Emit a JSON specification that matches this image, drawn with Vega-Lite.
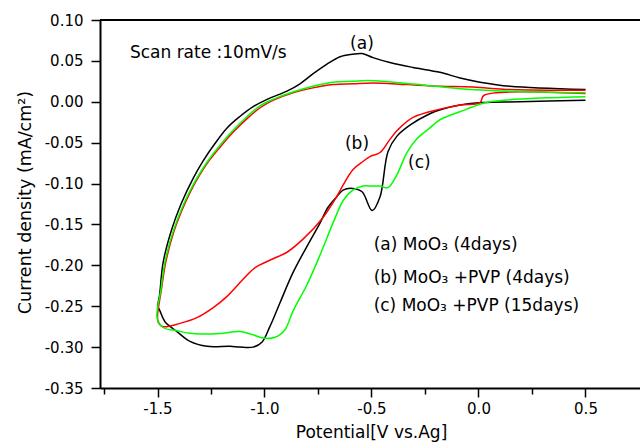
{
  "$schema": "https://vega.github.io/schema/vega-lite/v6.json",
  "width": 540,
  "height": 368,
  "autosize": {"type": "none"},
  "padding": {"left": 100, "top": 20, "right": 0, "bottom": 60},
  "background": "white",
  "config": {"view": {"stroke": null}, "font": "DejaVu Sans"},
  "datasets": {
    "curves": [
      {"s": "a", "i": 1, "x": 0.50, "y": 0.002},
      {"s": "a", "i": 2, "x": 0.192, "y": 0.000},
      {"s": "a", "i": 3, "x": 0.019, "y": -0.001},
      {"s": "a", "i": 4, "x": -0.086, "y": -0.004},
      {"s": "a", "i": 5, "x": -0.182, "y": -0.010},
      {"s": "a", "i": 6, "x": -0.230, "y": -0.015},
      {"s": "a", "i": 7, "x": -0.317, "y": -0.028},
      {"s": "a", "i": 8, "x": -0.381, "y": -0.042},
      {"s": "a", "i": 9, "x": -0.423, "y": -0.061},
      {"s": "a", "i": 10, "x": -0.460, "y": -0.116},
      {"s": "a", "i": 11, "x": -0.497, "y": -0.133},
      {"s": "a", "i": 12, "x": -0.544, "y": -0.110},
      {"s": "a", "i": 13, "x": -0.587, "y": -0.106},
      {"s": "a", "i": 14, "x": -0.633, "y": -0.108},
      {"s": "a", "i": 15, "x": -0.662, "y": -0.116},
      {"s": "a", "i": 16, "x": -0.703, "y": -0.129},
      {"s": "a", "i": 17, "x": -0.740, "y": -0.148},
      {"s": "a", "i": 18, "x": -0.802, "y": -0.177},
      {"s": "a", "i": 19, "x": -0.867, "y": -0.209},
      {"s": "a", "i": 20, "x": -0.928, "y": -0.246},
      {"s": "a", "i": 21, "x": -0.975, "y": -0.275},
      {"s": "a", "i": 22, "x": -1.012, "y": -0.294},
      {"s": "a", "i": 23, "x": -1.053, "y": -0.300},
      {"s": "a", "i": 24, "x": -1.115, "y": -0.300},
      {"s": "a", "i": 25, "x": -1.161, "y": -0.299},
      {"s": "a", "i": 26, "x": -1.269, "y": -0.299},
      {"s": "a", "i": 27, "x": -1.348, "y": -0.293},
      {"s": "a", "i": 28, "x": -1.409, "y": -0.281},
      {"s": "a", "i": 29, "x": -1.465, "y": -0.269},
      {"s": "a", "i": 30, "x": -1.488, "y": -0.256},
      {"s": "a", "i": 31, "x": -1.498, "y": -0.250},
      {"s": "a", "i": 32, "x": -1.490, "y": -0.236},
      {"s": "a", "i": 33, "x": -1.474, "y": -0.197},
      {"s": "a", "i": 34, "x": -1.436, "y": -0.158},
      {"s": "a", "i": 35, "x": -1.390, "y": -0.125},
      {"s": "a", "i": 36, "x": -1.334, "y": -0.094},
      {"s": "a", "i": 37, "x": -1.286, "y": -0.072},
      {"s": "a", "i": 38, "x": -1.234, "y": -0.052},
      {"s": "a", "i": 39, "x": -1.175, "y": -0.032},
      {"s": "a", "i": 40, "x": -1.115, "y": -0.018},
      {"s": "a", "i": 41, "x": -1.053, "y": -0.006},
      {"s": "a", "i": 42, "x": -0.988, "y": 0.003},
      {"s": "a", "i": 43, "x": -0.895, "y": 0.013},
      {"s": "a", "i": 44, "x": -0.834, "y": 0.022},
      {"s": "a", "i": 45, "x": -0.774, "y": 0.034},
      {"s": "a", "i": 46, "x": -0.708, "y": 0.046},
      {"s": "a", "i": 47, "x": -0.647, "y": 0.055},
      {"s": "a", "i": 48, "x": -0.590, "y": 0.058},
      {"s": "a", "i": 49, "x": -0.544, "y": 0.059},
      {"s": "a", "i": 50, "x": -0.493, "y": 0.054},
      {"s": "a", "i": 51, "x": -0.414, "y": 0.048},
      {"s": "a", "i": 52, "x": -0.306, "y": 0.042},
      {"s": "a", "i": 53, "x": -0.180, "y": 0.036},
      {"s": "a", "i": 54, "x": -0.086, "y": 0.029},
      {"s": "a", "i": 55, "x": 0.007, "y": 0.024},
      {"s": "a", "i": 56, "x": 0.147, "y": 0.019},
      {"s": "a", "i": 57, "x": 0.50, "y": 0.015},

      {"s": "b", "i": 1, "x": 0.50, "y": 0.010},
      {"s": "b", "i": 2, "x": 0.026, "y": 0.008},
      {"s": "b", "i": 3, "x": 0.007, "y": -0.001},
      {"s": "b", "i": 4, "x": -0.086, "y": -0.004},
      {"s": "b", "i": 5, "x": -0.180, "y": -0.009},
      {"s": "b", "i": 6, "x": -0.306, "y": -0.019},
      {"s": "b", "i": 7, "x": -0.376, "y": -0.034},
      {"s": "b", "i": 8, "x": -0.414, "y": -0.046},
      {"s": "b", "i": 9, "x": -0.460, "y": -0.062},
      {"s": "b", "i": 10, "x": -0.507, "y": -0.067},
      {"s": "b", "i": 11, "x": -0.540, "y": -0.073},
      {"s": "b", "i": 12, "x": -0.587, "y": -0.083},
      {"s": "b", "i": 13, "x": -0.633, "y": -0.102},
      {"s": "b", "i": 14, "x": -0.665, "y": -0.117},
      {"s": "b", "i": 15, "x": -0.731, "y": -0.143},
      {"s": "b", "i": 16, "x": -0.820, "y": -0.168},
      {"s": "b", "i": 17, "x": -0.895, "y": -0.184},
      {"s": "b", "i": 18, "x": -0.960, "y": -0.192},
      {"s": "b", "i": 19, "x": -1.045, "y": -0.203},
      {"s": "b", "i": 20, "x": -1.100, "y": -0.217},
      {"s": "b", "i": 21, "x": -1.175, "y": -0.238},
      {"s": "b", "i": 22, "x": -1.241, "y": -0.252},
      {"s": "b", "i": 23, "x": -1.316, "y": -0.264},
      {"s": "b", "i": 24, "x": -1.395, "y": -0.271},
      {"s": "b", "i": 25, "x": -1.474, "y": -0.275},
      {"s": "b", "i": 26, "x": -1.496, "y": -0.270},
      {"s": "b", "i": 27, "x": -1.500, "y": -0.262},
      {"s": "b", "i": 28, "x": -1.482, "y": -0.230},
      {"s": "b", "i": 29, "x": -1.462, "y": -0.197},
      {"s": "b", "i": 30, "x": -1.425, "y": -0.160},
      {"s": "b", "i": 31, "x": -1.373, "y": -0.125},
      {"s": "b", "i": 32, "x": -1.322, "y": -0.098},
      {"s": "b", "i": 33, "x": -1.267, "y": -0.075},
      {"s": "b", "i": 34, "x": -1.206, "y": -0.055},
      {"s": "b", "i": 35, "x": -1.146, "y": -0.037},
      {"s": "b", "i": 36, "x": -1.079, "y": -0.020},
      {"s": "b", "i": 37, "x": -1.019, "y": -0.007},
      {"s": "b", "i": 38, "x": -0.958, "y": 0.002},
      {"s": "b", "i": 39, "x": -0.867, "y": 0.011},
      {"s": "b", "i": 40, "x": -0.774, "y": 0.017},
      {"s": "b", "i": 41, "x": -0.680, "y": 0.021},
      {"s": "b", "i": 42, "x": -0.587, "y": 0.022},
      {"s": "b", "i": 43, "x": -0.493, "y": 0.023},
      {"s": "b", "i": 44, "x": -0.334, "y": 0.021},
      {"s": "b", "i": 45, "x": -0.180, "y": 0.019},
      {"s": "b", "i": 46, "x": -0.026, "y": 0.018},
      {"s": "b", "i": 47, "x": 0.147, "y": 0.015},
      {"s": "b", "i": 48, "x": 0.50, "y": 0.014},

      {"s": "c", "i": 1, "x": 0.50, "y": 0.006},
      {"s": "c", "i": 2, "x": 0.054, "y": 0.000},
      {"s": "c", "i": 3, "x": -0.026, "y": -0.006},
      {"s": "c", "i": 4, "x": -0.054, "y": -0.009},
      {"s": "c", "i": 5, "x": -0.180, "y": -0.022},
      {"s": "c", "i": 6, "x": -0.227, "y": -0.032},
      {"s": "c", "i": 7, "x": -0.287, "y": -0.045},
      {"s": "c", "i": 8, "x": -0.334, "y": -0.062},
      {"s": "c", "i": 9, "x": -0.381, "y": -0.089},
      {"s": "c", "i": 10, "x": -0.423, "y": -0.105},
      {"s": "c", "i": 11, "x": -0.460, "y": -0.103},
      {"s": "c", "i": 12, "x": -0.497, "y": -0.103},
      {"s": "c", "i": 13, "x": -0.540, "y": -0.103},
      {"s": "c", "i": 14, "x": -0.587, "y": -0.108},
      {"s": "c", "i": 15, "x": -0.633, "y": -0.121},
      {"s": "c", "i": 16, "x": -0.670, "y": -0.142},
      {"s": "c", "i": 17, "x": -0.740, "y": -0.187},
      {"s": "c", "i": 18, "x": -0.802, "y": -0.224},
      {"s": "c", "i": 19, "x": -0.867, "y": -0.256},
      {"s": "c", "i": 20, "x": -0.905, "y": -0.279},
      {"s": "c", "i": 21, "x": -0.951, "y": -0.288},
      {"s": "c", "i": 22, "x": -1.007, "y": -0.289},
      {"s": "c", "i": 23, "x": -1.053, "y": -0.285},
      {"s": "c", "i": 24, "x": -1.115, "y": -0.281},
      {"s": "c", "i": 25, "x": -1.194, "y": -0.283},
      {"s": "c", "i": 26, "x": -1.241, "y": -0.284},
      {"s": "c", "i": 27, "x": -1.348, "y": -0.283},
      {"s": "c", "i": 28, "x": -1.409, "y": -0.280},
      {"s": "c", "i": 29, "x": -1.474, "y": -0.276},
      {"s": "c", "i": 30, "x": -1.502, "y": -0.264},
      {"s": "c", "i": 31, "x": -1.484, "y": -0.230},
      {"s": "c", "i": 32, "x": -1.466, "y": -0.197},
      {"s": "c", "i": 33, "x": -1.429, "y": -0.160},
      {"s": "c", "i": 34, "x": -1.376, "y": -0.124},
      {"s": "c", "i": 35, "x": -1.324, "y": -0.097},
      {"s": "c", "i": 36, "x": -1.269, "y": -0.074},
      {"s": "c", "i": 37, "x": -1.208, "y": -0.053},
      {"s": "c", "i": 38, "x": -1.148, "y": -0.035},
      {"s": "c", "i": 39, "x": -1.081, "y": -0.018},
      {"s": "c", "i": 40, "x": -1.021, "y": -0.005},
      {"s": "c", "i": 41, "x": -0.960, "y": 0.003},
      {"s": "c", "i": 42, "x": -0.867, "y": 0.012},
      {"s": "c", "i": 43, "x": -0.774, "y": 0.019},
      {"s": "c", "i": 44, "x": -0.680, "y": 0.024},
      {"s": "c", "i": 45, "x": -0.587, "y": 0.025},
      {"s": "c", "i": 46, "x": -0.521, "y": 0.026},
      {"s": "c", "i": 47, "x": -0.399, "y": 0.024},
      {"s": "c", "i": 48, "x": -0.241, "y": 0.020},
      {"s": "c", "i": 49, "x": -0.086, "y": 0.016},
      {"s": "c", "i": 50, "x": 0.147, "y": 0.013},
      {"s": "c", "i": 51, "x": 0.50, "y": 0.011}
    ],
    "labels": [
      {"t": "Scan rate :10mV/s", "x": -1.629, "y": 0.053},
      {"t": "(a)", "x": -0.600, "y": 0.064},
      {"t": "(b)", "x": -0.624, "y": -0.058},
      {"t": "(c)", "x": -0.329, "y": -0.0815},
      {"t": "(a) MoO₃ (4days)", "x": -0.490, "y": -0.1816},
      {"t": "(b) MoO₃ +PVP (4days)", "x": -0.490, "y": -0.2210},
      {"t": "(c) MoO₃ +PVP (15days)", "x": -0.490, "y": -0.2554}
    ]
  },
  "layer": [
    {
      "data": {"name": "curves"},
      "mark": {"type": "line", "strokeWidth": 1.5, "clip": true, "interpolate": "catmull-rom"},
      "encoding": {
        "x": {
          "field": "x", "type": "quantitative",
          "scale": {"domain": [-1.7687, 0.7547], "nice": false, "zero": false},
          "axis": {
            "values": [-1.75, -1.5, -1.25, -1.0, -0.75, -0.5, -0.25, 0, 0.25, 0.5],
            "labelExpr": "abs(datum.value*2-round(datum.value*2))<0.001 ? (datum.value<0?'-':'') + format(abs(datum.value),'.1f') : ''",
            "tickSize": {"condition": {"test": "abs(datum.value*2-round(datum.value*2))<0.001", "value": 9}, "value": 6},
            "grid": false,
            "domainColor": "black", "domainWidth": 2,
            "tickColor": "black", "tickWidth": 1.5,
            "labelFont": "DejaVu Sans", "labelFontSize": 15, "labelColor": "black", "labelPadding": 4,
            "title": "Potential[V vs.Ag]",
            "titleFont": "DejaVu Sans", "titleFontSize": 17, "titleFontWeight": "normal", "titleColor": "black",
            "titleX": 271, "titleY": 49, "titleBaseline": "alphabetic"
          }
        },
        "y": {
          "field": "y", "type": "quantitative",
          "scale": {"domain": [-0.35, 0.10], "nice": false, "zero": false},
          "axis": {
            "values": [-0.35, -0.325, -0.3, -0.275, -0.25, -0.225, -0.2, -0.175, -0.15, -0.125, -0.1, -0.075, -0.05, -0.025, 0, 0.025, 0.05, 0.075, 0.1],
            "labelExpr": "abs(datum.value*20-round(datum.value*20))<0.001 ? (datum.value<-0.0001?'-':'') + format(abs(datum.value),'.2f') : ''",
            "tickSize": {"condition": {"test": "abs(datum.value*20-round(datum.value*20))<0.001", "value": 9}, "value": 6},
            "grid": false,
            "domainColor": "black", "domainWidth": 2,
            "tickColor": "black", "tickWidth": 1.5,
            "labelFont": "DejaVu Sans", "labelFontSize": 15, "labelColor": "black", "labelPadding": 8,
            "title": "Current density (mA/cm²)",
            "titleFont": "DejaVu Sans", "titleFontSize": 17.5, "titleFontWeight": "normal", "titleColor": "black",
            "titleAngle": -90, "titleX": -70, "titleY": 182, "titleBaseline": "alphabetic", "titleAlign": "center"
          }
        },
        "color": {
          "field": "s", "type": "nominal",
          "scale": {"domain": ["a", "b", "c"], "range": ["#000000", "#ff0000", "#00ff00"]},
          "legend": null
        },
        "order": {"field": "i", "type": "quantitative"}
      }
    },
    {
      "data": {"name": "labels"},
      "mark": {"type": "text", "font": "DejaVu Sans", "fontSize": 17, "align": "left", "baseline": "alphabetic", "color": "black"},
      "encoding": {
        "x": {"field": "x", "type": "quantitative"},
        "y": {"field": "y", "type": "quantitative"},
        "text": {"field": "t"}
      }
    },
    {
      "data": {"values": [{}]},
      "mark": {"type": "rule", "strokeWidth": 2, "color": "black"},
      "encoding": {"y": {"datum": 0.1}}
    }
  ]
}
